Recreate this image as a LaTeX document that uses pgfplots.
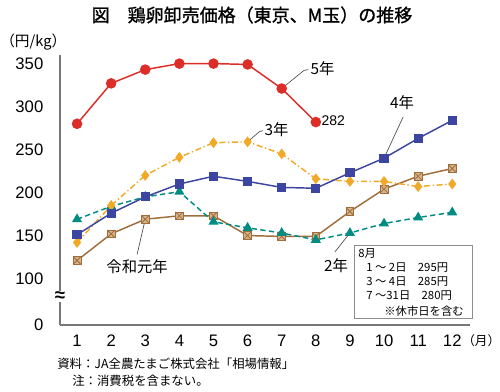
\documentclass[border=0pt]{standalone}
\usepackage{pgfplots}
\pgfplotsset{compat=1.18}
\usepackage{fontspec}
\setmainfont{Liberation Sans}
\newfontfamily\cjk{Noto Sans CJK JP}
\newfontfamily\cjkb[FakeBold=1.2]{Noto Sans CJK JP}
\definecolor{cred}{RGB}{220,45,40}
\definecolor{corange}{RGB}{240,170,40}
\definecolor{cblue}{RGB}{60,70,160}
\definecolor{cteal}{RGB}{0,140,130}
\definecolor{cbrown}{RGB}{160,110,60}
\definecolor{cbrownfill}{RGB}{215,180,140}
\definecolor{caxis}{RGB}{120,120,120}
\pgfdeclareplotmark{boxx}{%
  \pgfpathrectangle{\pgfpoint{-\pgfplotmarksize}{-\pgfplotmarksize}}{\pgfpoint{2\pgfplotmarksize}{2\pgfplotmarksize}}%
  \pgfusepathqfillstroke
  \pgfpathmoveto{\pgfpoint{-\pgfplotmarksize}{-\pgfplotmarksize}}\pgfpathlineto{\pgfpoint{\pgfplotmarksize}{\pgfplotmarksize}}%
  \pgfpathmoveto{\pgfpoint{-\pgfplotmarksize}{\pgfplotmarksize}}\pgfpathlineto{\pgfpoint{\pgfplotmarksize}{-\pgfplotmarksize}}%
  \pgfusepathqstroke}
\newcommand{\PX}[2]{({#1*0.75pt},{(392-#2)*0.75pt})}
\begin{document}
\begin{tikzpicture}
\useasboundingbox (0,0) rectangle (375pt,294pt);
\begin{axis}[
  at={(45pt,50.25pt)}, anchor=south west,
  scale only axis, width=307.5pt, height=202.5pt,
  xmin=0.5, xmax=12.52, ymin=46, ymax=360,
  axis x line=bottom, axis y line=left,
  axis line style={-, caxis, line width=1pt},
  xtick={1,...,12}, ytick={46,100,150,200,250,300,350},
  yticklabels={0,100,150,200,250,300,350},
  major tick length=0pt,
  tick label style={font=\fontsize{12.5}{14}\selectfont, black},
  /pgf/number format/assume math mode=true,
  yticklabel style={xshift=-9pt},
  xticklabel style={yshift=-4pt},
  clip=false,
]
\addplot[cbrown, line width=1.1pt, mark=boxx, mark size=2.9pt, mark options={solid, fill=cbrownfill, draw=cbrown, line width=0.6pt}]
  coordinates {(1,121)(2,152)(3,169)(4,173)(5,173)(6,150)(7,149)(8,149)(9,178)(10,204)(11,219)(12,228)};
\addplot[cteal, line width=1.1pt, dash pattern=on 4pt off 2.5pt, mark=triangle*, mark size=3.3pt, mark options={solid, fill=cteal}]
  coordinates {(1,169)(2,184)(3,195)(4,201)(5,166)(6,159)(7,153)(8,145)(9,153)(10,164)(11,171)(12,177)};
\addplot[corange, line width=1.1pt, dash pattern=on 4.5pt off 2pt on 1pt off 2pt, mark=diamond*, mark size=3.2pt, mark options={solid, fill=corange}]
  coordinates {(1,142)(2,185)(3,220)(4,241)(5,258)(6,259)(7,245)(8,216)(9,213)(10,213)(11,207)(12,210)};
\addplot[cblue, line width=1.1pt, mark=square*, mark size=2.9pt, mark options={solid, fill=cblue}]
  coordinates {(1,151)(2,176)(3,195)(4,210)(5,219)(6,213)(7,206)(8,205)(9,223)(10,240)(11,263)(12,284)};
\addplot[cred, line width=1.1pt, mark=*, mark size=3.4pt, mark options={solid, fill=cred}]
  coordinates {(1,280)(2,327)(3,343)(4,350)(5,350)(6,349)(7,321)(8,282)};
% leader lines and labels
\draw[black!70, line width=0.5pt] (axis cs:7,321) -- (axis cs:7.65,342) -- (axis cs:7.78,343);
\node[anchor=west, inner sep=1pt, font=\cjk\fontsize{11.5}{13}\selectfont] at (axis cs:7.8,344) {5年};
\node[anchor=west, inner sep=1pt, font=\fontsize{10.5}{12}\selectfont] at (axis cs:8.12,284) {282};
\draw[black!70, line width=0.5pt] (axis cs:6,259) -- (axis cs:6.35,271) -- (axis cs:6.45,272);
\node[anchor=west, inner sep=1pt, font=\cjk\fontsize{11.5}{13}\selectfont] at (axis cs:6.45,273) {3年};
\draw[black!70, line width=0.5pt] (axis cs:10,240) -- (axis cs:10.56,288);
\node[font=\cjk\fontsize{11.5}{13}\selectfont, inner sep=1pt] at (axis cs:10.53,305) {4年};
\draw[black!70, line width=0.5pt] (axis cs:9,153) -- (axis cs:8.56,131);
\node[font=\cjk\fontsize{11.5}{13}\selectfont, inner sep=1pt] at (axis cs:8.59,115) {2年};
\draw[black!70, line width=0.5pt] (axis cs:3,169) -- (axis cs:2.76,128);
\node[font=\cjk\fontsize{11.5}{13}\selectfont, inner sep=1pt] at (axis cs:2.76,114) {令和元年};
% axis break
\node[fill=white, inner sep=0.5pt, font=\bfseries\fontsize{14}{14}\selectfont] at (axis cs:0.5,79) {≈};
\end{axis}
% title and outside texts
\node[font=\cjkb\fontsize{13.5}{15}\selectfont] at \PX{252}{15} {図　鶏卵卸売価格（東京、M玉）の推移};
\node[anchor=west, inner sep=0pt, font=\cjk\fontsize{11}{13}\selectfont] at \PX{0}{42} {（円/kg）};
\node[anchor=west, inner sep=0pt, font=\cjk\fontsize{9.5}{11}\selectfont] at \PX{462}{341} {（月）};
\node[anchor=west, inner sep=0pt, font=\cjk\fontsize{9.3}{11}\selectfont] at \PX{57}{364} {資料：JA全農たまご株式会社「相場情報」};
\node[anchor=west, inner sep=0pt, font=\cjk\fontsize{9.3}{11}\selectfont] at \PX{72}{381} {注：消費税を含まない。};
% note box
\draw[black!45, line width=0.6pt, fill=white] \PX{354}{245} rectangle \PX{472}{318};
\node[anchor=west, inner sep=0pt, font=\cjk\fontsize{8.5}{10}\selectfont] at \PX{358}{254} {8月};
\node[anchor=west, inner sep=0pt, font=\cjk\fontsize{8.5}{10}\selectfont] at \PX{366}{268} {1 ～ 2日　295円};
\node[anchor=west, inner sep=0pt, font=\cjk\fontsize{8.5}{10}\selectfont] at \PX{366}{282} {3 ～ 4日　285円};
\node[anchor=west, inner sep=0pt, font=\cjk\fontsize{8.5}{10}\selectfont] at \PX{366}{296} {7 ～31日　280円};
\node[anchor=east, inner sep=0pt, font=\cjk\fontsize{8.5}{10}\selectfont] at \PX{464}{311} {※休市日を含む};
\end{tikzpicture}
\end{document}
